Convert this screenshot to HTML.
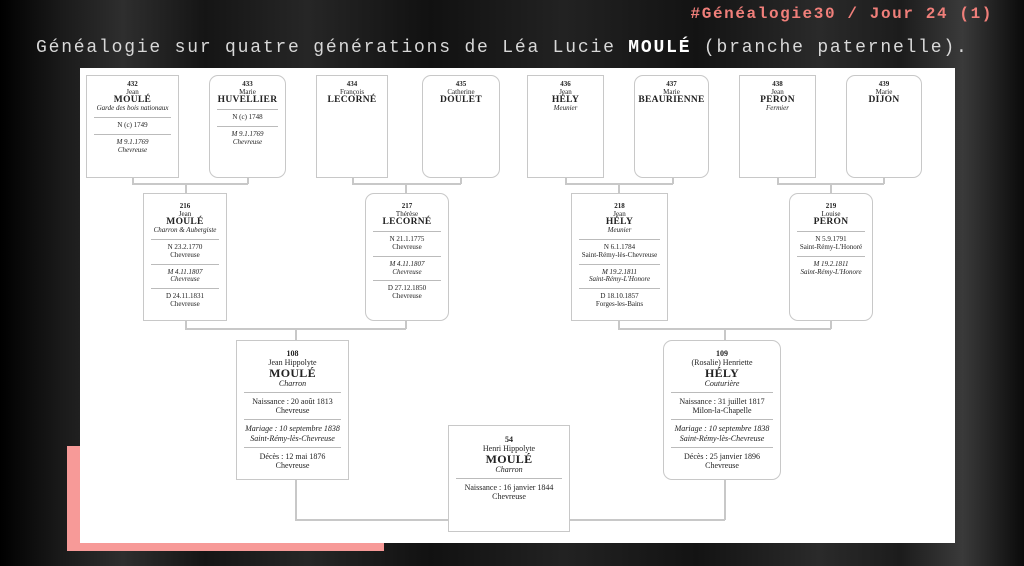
<!DOCTYPE html>
<html><head><meta charset="utf-8"><style>
*{margin:0;padding:0;box-sizing:border-box}
body{width:1024px;height:566px;overflow:hidden;position:relative;
background:linear-gradient(90deg,#000 0%,#1a1a1a 6%,#2e2e2e 12%,#151515 20%,#262626 30%,#111 42%,#222 55%,#131313 68%,#2a2a2a 80%,#1c1c1c 88%,#3a3a3a 94%,#0a0a0a 100%);
font-family:"Liberation Serif",serif;color:#222}
.hdr{position:absolute;right:31px;top:5px;font-family:"Liberation Mono",monospace;font-weight:bold;font-size:16px;letter-spacing:1.6px;color:#f07f7a}
.ttl{position:absolute;left:36px;top:38px;font-family:"Liberation Mono",monospace;font-size:18px;letter-spacing:1.8px;color:#d8d8d8;white-space:nowrap}
.ttl b{color:#fff}
.pink{position:absolute;left:67px;top:446px;width:317px;height:105px;background:#f79a98}
.panel{position:absolute;left:80px;top:68px;width:875px;height:475px;background:#fff}
.b{position:absolute;border:1.5px solid #c8c8c8;background:#fff;text-align:center;font-size:7px;line-height:7.7px;padding-top:5px}
.r{border-radius:9px}
.b .n{font-weight:bold}
.b .s{font-weight:bold;font-size:9.5px;line-height:9px;letter-spacing:.3px}
.b i{display:block}
.b hr{border:0;border-top:1px solid #bbb;margin:4px 7px 4px}
.l{position:absolute;background:#c8c8c8}
.h{height:1.5px}.v{width:1.5px}
.big{font-size:8px;line-height:9.3px}
.big .s{font-size:12px;line-height:11px}
</style></head><body>
<div class="hdr">#Généalogie30 / Jour 24 (1)</div>
<div class="ttl">Généalogie sur quatre générations de Léa Lucie <b>MOULÉ</b> (branche paternelle).</div>
<div class="pink"></div>
<div class="panel"></div>

<div class="l v" style="left:132px;top:177px;height:7px"></div>
<div class="l v" style="left:247px;top:177px;height:7px"></div>
<div class="l h" style="left:132px;top:183px;width:116px"></div>
<div class="l v" style="left:185px;top:183px;height:10px"></div>

<div class="l v" style="left:352px;top:177px;height:7px"></div>
<div class="l v" style="left:460px;top:177px;height:7px"></div>
<div class="l h" style="left:352px;top:183px;width:109px"></div>
<div class="l v" style="left:405px;top:183px;height:10px"></div>

<div class="l v" style="left:565px;top:177px;height:7px"></div>
<div class="l v" style="left:672px;top:177px;height:7px"></div>
<div class="l h" style="left:565px;top:183px;width:108px"></div>
<div class="l v" style="left:618px;top:183px;height:10px"></div>

<div class="l v" style="left:777px;top:177px;height:7px"></div>
<div class="l v" style="left:883px;top:177px;height:7px"></div>
<div class="l h" style="left:777px;top:183px;width:107px"></div>
<div class="l v" style="left:830px;top:183px;height:10px"></div>

<div class="l v" style="left:185px;top:320px;height:9px"></div>
<div class="l v" style="left:405px;top:320px;height:9px"></div>
<div class="l h" style="left:185px;top:328px;width:221px"></div>
<div class="l v" style="left:295px;top:328px;height:12px"></div>

<div class="l v" style="left:618px;top:320px;height:9px"></div>
<div class="l v" style="left:830px;top:320px;height:9px"></div>
<div class="l h" style="left:618px;top:328px;width:213px"></div>
<div class="l v" style="left:724px;top:328px;height:12px"></div>

<div class="l v" style="left:295px;top:479px;height:41px"></div>
<div class="l h" style="left:295px;top:519px;width:153px"></div>
<div class="l v" style="left:724px;top:479px;height:41px"></div>
<div class="l h" style="left:569px;top:519px;width:156px"></div>

<div class="b" style="left:86px;top:75px;width:93px;height:103px"><div class="n">432</div>Jean<div class="s">MOULÉ</div><i>Garde des bois nationaux</i><hr>N (c) 1749<hr><i>M 9.1.1769<br>Chevreuse</i></div>
<div class="b r" style="left:209px;top:75px;width:77px;height:103px"><div class="n">433</div>Marie<div class="s">HUVELLIER</div><hr>N (c) 1748<hr><i>M 9.1.1769<br>Chevreuse</i></div>
<div class="b" style="left:316px;top:75px;width:72px;height:103px"><div class="n">434</div>François<div class="s">LECORNÉ</div></div>
<div class="b r" style="left:422px;top:75px;width:78px;height:103px"><div class="n">435</div>Catherine<div class="s">DOULET</div></div>
<div class="b" style="left:527px;top:75px;width:77px;height:103px"><div class="n">436</div>Jean<div class="s">HÉLY</div><i>Meunier</i></div>
<div class="b r" style="left:634px;top:75px;width:75px;height:103px"><div class="n">437</div>Marie<div class="s">BEAURIENNE</div></div>
<div class="b" style="left:739px;top:75px;width:77px;height:103px"><div class="n">438</div>Jean<div class="s">PERON</div><i>Fermier</i></div>
<div class="b r" style="left:846px;top:75px;width:76px;height:103px"><div class="n">439</div>Marie<div class="s">DIJON</div></div>

<div class="b" style="left:143px;top:193px;width:84px;height:128px;padding-top:9px"><div class="n">216</div>Jean<div class="s">MOULÉ</div><i>Charron &amp; Aubergiste</i><hr>N 23.2.1770<br>Chevreuse<hr><i>M 4.11.1807<br>Chevreuse</i><hr>D 24.11.1831<br>Chevreuse</div>
<div class="b r" style="left:365px;top:193px;width:84px;height:128px;padding-top:9px"><div class="n">217</div>Thérèse<div class="s">LECORNÉ</div><hr>N 21.1.1775<br>Chevreuse<hr><i>M 4.11.1807<br>Chevreuse</i><hr>D 27.12.1850<br>Chevreuse</div>
<div class="b" style="left:571px;top:193px;width:97px;height:128px;padding-top:9px"><div class="n">218</div>Jean<div class="s">HÉLY</div><i>Meunier</i><hr>N 6.1.1784<br>Saint-Rémy-lès-Chevreuse<hr><i>M 19.2.1811<br>Saint-Rémy-L'Honore</i><hr>D 18.10.1857<br>Forges-les-Bains</div>
<div class="b r" style="left:789px;top:193px;width:84px;height:128px;padding-top:9px"><div class="n">219</div>Louise<div class="s">PERON</div><hr>N 5.9.1791<br>Saint-Rémy-L'Honoré<hr><i>M 19.2.1811<br>Saint-Rémy-L'Honore</i></div>

<div class="b big" style="left:236px;top:340px;width:113px;height:140px;padding-top:8px"><div class="n">108</div>Jean Hippolyte<div class="s">MOULÉ</div><i>Charron</i><hr>Naissance : 20 août 1813<br>Chevreuse<hr><i>Mariage : 10 septembre 1838<br>Saint-Rémy-lès-Chevreuse</i><hr>Décès : 12 mai 1876<br>Chevreuse</div>
<div class="b big r" style="left:663px;top:340px;width:118px;height:140px;padding-top:8px"><div class="n">109</div>(Rosalie) Henriette<div class="s">HÉLY</div><i>Couturière</i><hr>Naissance : 31 juillet 1817<br>Milon-la-Chapelle<hr><i>Mariage : 10 septembre 1838<br>Saint-Rémy-lès-Chevreuse</i><hr>Décès : 25 janvier 1896<br>Chevreuse</div>

<div class="b big" style="left:448px;top:425px;width:122px;height:107px;padding-top:9px"><div class="n">54</div>Henri Hippolyte<div class="s">MOULÉ</div><i>Charron</i><hr>Naissance : 16 janvier 1844<br>Chevreuse</div>
</body></html>
